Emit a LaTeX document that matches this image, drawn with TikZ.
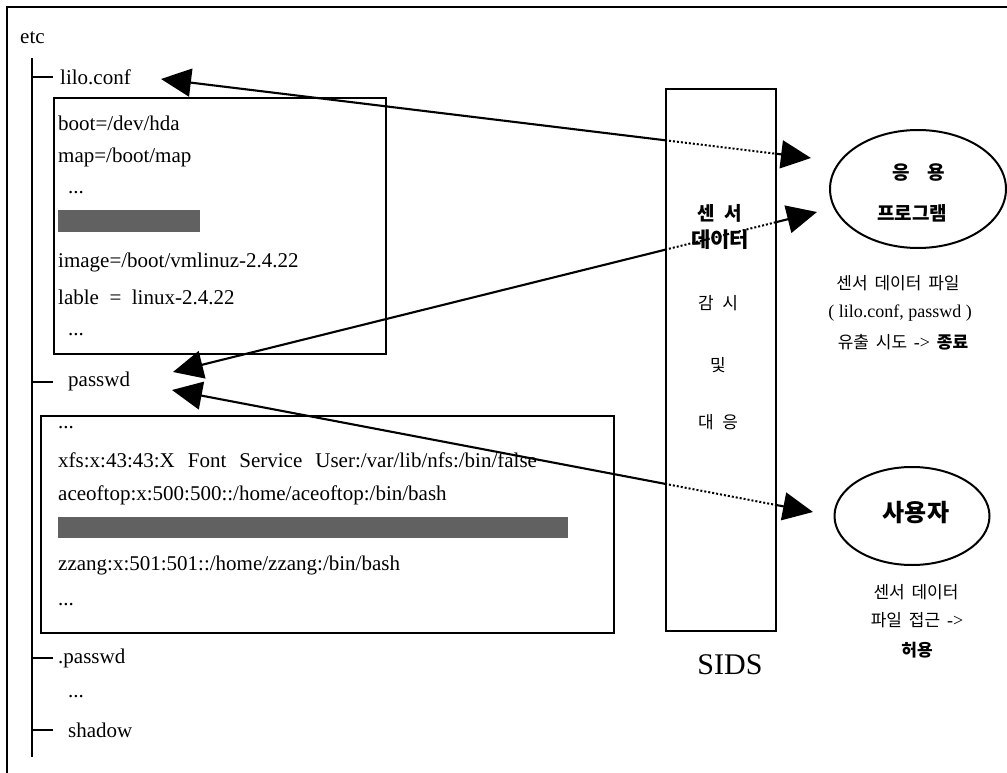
\documentclass[tikz,border=0pt]{standalone}
\usepackage{fontspec}
\setmainfont{Liberation Serif}
\newfontfamily\kr{Noto Sans CJK KR}
\usetikzlibrary{arrows.meta,calc,shapes.geometric}
\begin{document}
\begin{tikzpicture}[x=1pt,y=-1pt,
  frame/.style={line width=1.8pt},
  box/.style={draw, line width=2.4pt, anchor=north west, inner sep=0pt},
  tree/.style={line width=2.6pt},
  ftxt/.style={anchor=west, inner sep=0pt, font=\fontsize{21}{21}\selectfont},
  krtxt/.style={inner sep=0pt, font=\kr\fontsize{17}{17}\selectfont},
  krbold/.style={inner sep=0pt, font=\kr\bfseries\fontsize{18}{18}\selectfont},
  conn/.style={line width=2.1pt},
  dotline/.style={line width=2pt, dash pattern=on 2pt off 2pt},
  bar/.style={fill=black!62, draw=none},
  >={Triangle[length=30pt,width=28pt]}
]
\useasboundingbox (0,0) rectangle (1007,773);
% outer frame
\draw[frame] (7,773) -- (7,7) -- (1007,7);

% tree
\node[ftxt] (etc) at (20,38) {etc};
\coordinate (trtop) at (32,58);
\coordinate (trbot) at (32,757);
\draw[tree] (trtop) -- (trbot);
\node[ftxt] (lilo) at (60,77) {lilo.conf};
\node[ftxt] (passwd) at (68,381) {passwd};
\node[ftxt] (dpasswd) at (58,658) {.passwd};
\node[ftxt] (dotsA) at (68,697) {...};
\node[ftxt] (shadow) at (68,730) {shadow};
\draw[tree] (32,77) -- (53,77);
\draw[tree] (32,382) -- (53,382);
\draw[tree] (32,658) -- (53,658);
\draw[tree] (32,730) -- (53,730);

% lilo.conf box
\node[box, minimum width=332pt, minimum height=256pt] (lilobox) at (53,97) {};
\node[ftxt] (l1) at (58,123) {boot=/dev/hda};
\node[ftxt] (l2) at (58,157) {map=/boot/map};
\node[ftxt] (l3) at (68,193) {...};
\fill[bar] (58,210) rectangle (200,232);
\node[ftxt] (l5) at (58,262) {image=/boot/vmlinuz-2.4.22};
\node[ftxt] (l6) at (58,297) {lable \ = \ linux-2.4.22};
\node[ftxt] (l7) at (68,335) {...};

% passwd box
\node[box, minimum width=573pt, minimum height=217pt] (pwbox) at (40,415) {};
\node[ftxt] (p1) at (58,428) {...};
\node[ftxt] (p2) at (58,460) {\spaceskip=0.62em xfs:x:43:43:X Font Service User:/var/lib/nfs:/bin/false};
\node[ftxt] (p3) at (58,495) {aceoftop:x:500:500::/home/aceoftop:/bin/bash};
\fill[bar] (58,517) rectangle (568,538);
\node[ftxt] (p5) at (58,565) {zzang:x:501:501::/home/zzang:/bin/bash};
\node[ftxt] (p6) at (58,605) {...};

% SIDS box
\node[box, minimum width=110pt, minimum height=542pt] (sids) at (665,88) {};
\node[krbold, font=\kr\bfseries\fontsize{19}{19}\selectfont] (s1) at (720,213) {센\hspace{0.5em}서};
\node[krbold, font=\kr\bfseries\fontsize{21}{21}\selectfont] (s2) at (720,240) {데이터};
\node[krtxt] (s3) at (718,303) {감\hspace{0.5em}시};
\node[krtxt] (s4) at (718,365) {및};
\node[krtxt] (s5) at (718,422) {대\hspace{0.5em}응};
\node[inner sep=0pt, font=\fontsize{30}{30}\selectfont] (sidslbl) at (730,665) {SIDS};

% application ellipse
\node[draw, ellipse, line width=2pt, minimum width=176pt, minimum height=118pt] (app) at (918,189) {};
\node[krbold, font=\kr\bfseries\fontsize{19}{19}\selectfont] (app1) at (919,173) {응\hspace{0.9em}용};
\node[krbold, font=\kr\bfseries\fontsize{19}{19}\selectfont] (app2) at (912,213) {프로그램};
\node[krtxt] (c1) at (898,283) {센서\hspace{0.4em}데이터\hspace{0.4em}파일};
\node[inner sep=0pt, font=\fontsize{18}{18}\selectfont] (c2) at (900,313) {( lilo.conf, passwd )};
\node[krtxt] (c3) at (903,342) {유출\hspace{0.4em}시도\hspace{0.4em}{\fontsize{18}{18}\selectfont\rmfamily ->}\hspace{0.4em}{\bfseries 종료}};

% user ellipse
\node[draw, ellipse, line width=2pt, minimum width=155pt, minimum height=98pt] (user) at (912,516) {};
\node[krbold, font=\kr\bfseries\fontsize{24}{24}\selectfont] (user1) at (916,513) {사용자};
\node[krtxt] (u1) at (916,592) {센서\hspace{0.4em}데이터};
\node[krtxt] (u2) at (917,620) {파일\hspace{0.4em}접근\hspace{0.4em}{\fontsize{18}{18}\selectfont\rmfamily ->}};
\node[krtxt, font=\kr\bfseries\fontsize{17}{17}\selectfont] (u3) at (917,650) {허용};

% connectors
\coordinate (a1l) at (161,79);
\coordinate (a1r) at (811,158);
\coordinate (a2l) at (173,372);
\coordinate (a2r) at (817,212);
\coordinate (a3l) at (172,390);
\coordinate (a3r) at (813,512);
\coordinate (x1) at ($(a1l)!0.7754!(a1r)$);
\coordinate (y1) at ($(a1l)!0.9446!(a1r)$);
\coordinate (x2) at ($(a2l)!0.7640!(a2r)$);
\coordinate (y2) at ($(a2l)!0.9348!(a2r)$);
\coordinate (x3) at ($(a3l)!0.7691!(a3r)$);
\coordinate (y3) at ($(a3l)!0.9407!(a3r)$);

\draw[conn,<-] (a1l) -- (x1);
\draw[dotline] (x1) -- (y1);
\draw[conn,->] (y1) -- (a1r);

\draw[conn,<-] (a2l) -- (x2);
\draw[dotline] (x2) -- (y2);
\draw[conn,->] (y2) -- (a2r);

\draw[conn,<-] (a3l) -- (x3);
\draw[dotline] (x3) -- (y3);
\draw[conn,->] (y3) -- (a3r);
\end{tikzpicture}
\end{document}
